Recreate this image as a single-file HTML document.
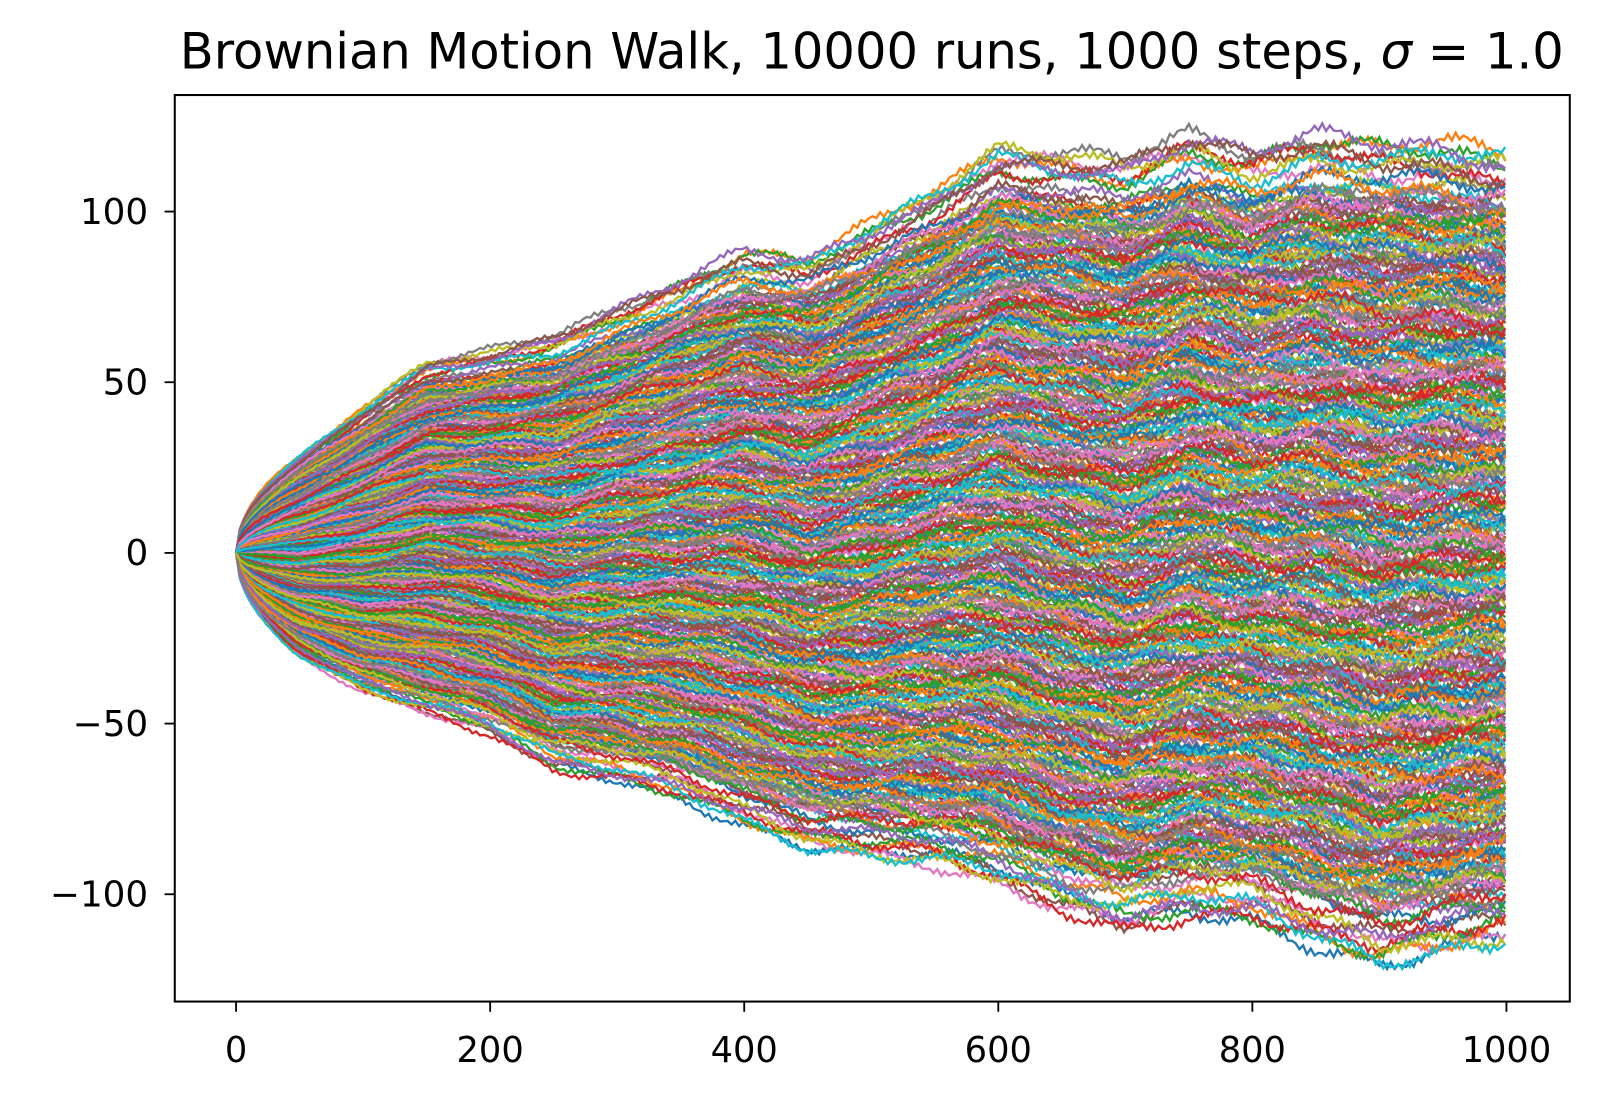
<!DOCTYPE html>
<html><head><meta charset="utf-8"><style>
html,body{margin:0;padding:0;background:#fff;}
svg text{font-family:"DejaVu Sans","Liberation Sans",sans-serif;fill:#000;}
</style></head><body>
<svg id="chart" width="1602" height="1102" viewBox="0 0 1602 1102" xmlns="http://www.w3.org/2000/svg">
<rect width="1602" height="1102" fill="#fff"/>
<g transform="scale(1.022)">
<text x="853" y="67" font-size="48.5" text-anchor="middle">Brownian Motion Walk, 10000 runs, 1000 steps, <tspan font-style="italic">σ</tspan> = 1.0</text>
<defs><clipPath id="pc"><rect x="171" y="93" width="1365" height="887"/></clipPath></defs>
<g id="series" clip-path="url(#pc)"></g>
<rect x="171" y="93" width="1365" height="887" fill="none" stroke="#000" stroke-width="2"/>
<g id="axes"></g>
</g>
</svg>
<script>
const steps = [0,50,100,150,200,250,300,350,400,450,500,550,600,650,700,750,800,850,900,950,1000];
const upperEnv = [0,28,42,55,58,62,70,78,87,85,95,105,117,115,113,120,115,120,118,118,115];
const lowerEnv = [0,-30,-40,-46,-52,-62,-65,-70,-78,-85,-88,-90,-95,-103,-108,-104,-105,-112,-118,-115,-112];
const xTicks = [0,200,400,600,800,1000];
const yTicks = [-100,-50,0,50,100];
const colors = ["#1f77b4","#ff7f0e","#2ca02c","#d62728","#9467bd","#8c564b","#e377c2","#7f7f7f","#bcbd22","#17becf"];
const NS="http://www.w3.org/2000/svg";
const xs = v => 231 + (v/1000)*(1474-231);
const ys = v => 541 - v*3.34;
function env(arr,x){
  if(x<50) return arr[1]*Math.sqrt(x/50);
  const i=Math.min(Math.floor(x/50),steps.length-2);const t=(x-steps[i])/50;return arr[i]+(arr[i+1]-arr[i])*t;}
const g=document.getElementById('series');
const N=440;
for(let k=0;k<N;k++){
  const i=(k*137)%N;
  const f=i/(N-1);
  const core = (f<0.02||f>0.98)?1.0:0.94;
  let d="";
  for(let x=0;x<=1000;x+=3){
    const up=env(upperEnv,x)*core, lo=env(lowerEnv,x)*core;
    const s=Math.sqrt(x/1000);
    const w=s*(4*Math.sin(x*0.013+i*1.7)+2*Math.sin(x*0.08+i*2.3)+1.2*Math.sin(x*0.9+i*0.7));
    let v=lo+(up-lo)*f+w;
    d+=(x?"L":"M")+xs(x).toFixed(1)+","+ys(v).toFixed(1);
  }
  const p=document.createElementNS(NS,'path');
  p.setAttribute('d',d);p.setAttribute('fill','none');
  p.setAttribute('stroke',colors[k%10]);p.setAttribute('stroke-width','2.3');
  
  
  g.appendChild(p);
}
const ax=document.getElementById('axes');
xTicks.forEach(t=>{
  const l=document.createElementNS(NS,'line');
  l.setAttribute('x1',xs(t));l.setAttribute('x2',xs(t));l.setAttribute('y1',980);l.setAttribute('y2',990);l.setAttribute('stroke','#000');l.setAttribute('stroke-width','1.8');
  
  
  ax.appendChild(l);
  const tx=document.createElementNS(NS,'text');
  tx.setAttribute('x',xs(t));tx.setAttribute('y',1039);tx.setAttribute('font-size','34.5');tx.setAttribute('text-anchor','middle');tx.textContent=t;
  
  
  ax.appendChild(tx);
});
yTicks.forEach(t=>{
  const l=document.createElementNS(NS,'line');
  l.setAttribute('x1',161);l.setAttribute('x2',171);l.setAttribute('y1',ys(t));l.setAttribute('y2',ys(t));l.setAttribute('stroke','#000');l.setAttribute('stroke-width','1.8');
  
  
  ax.appendChild(l);
  const tx=document.createElementNS(NS,'text');
  tx.setAttribute('x',145);tx.setAttribute('y',ys(t)+12);tx.setAttribute('font-size','35');tx.setAttribute('text-anchor','end');tx.textContent=(t<0?"−"+(-t):t);
  
  
  ax.appendChild(tx);
});
</script>
</body></html>
